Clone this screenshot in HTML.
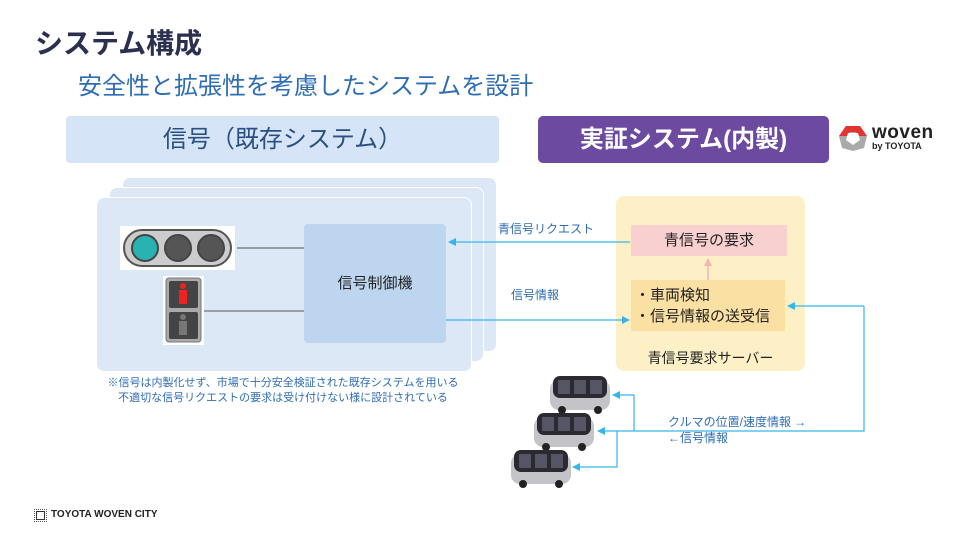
<!DOCTYPE html>
<html><head><meta charset="utf-8"><style>
body{margin:0}
#c{position:relative;width:960px;height:540px;background:#fff;overflow:hidden;font-family:"Liberation Sans","Noto Sans CJK JP",sans-serif}
.a{position:absolute}
.t{white-space:nowrap}
</style></head><body><div id="c">
<div class="a t" style="left:35px;top:22px;font-size:28px;font-weight:bold;color:#2b2f50">システム構成</div>
<div class="a t" style="left:78px;top:66px;font-size:24px;color:#2f6db3">安全性と拡張性を考慮したシステムを設計</div>

<div class="a" style="left:66px;top:116px;width:433px;height:47px;background:#d5e4f6;border-radius:4px;text-align:center;line-height:47px;font-size:24px;color:#2a4f80">信号（既存システム）</div>
<div class="a" style="left:538px;top:116px;width:291px;height:47px;background:#6b4aa0;border-radius:5px;text-align:center;line-height:47px;font-size:24px;font-weight:bold;color:#fff">実証システム(内製)</div>

<svg class="a" style="left:838px;top:124px" width="30" height="28" viewBox="0 0 30 28">
<polygon points="8,2 22,2 29,12 26,24 15,27 4,24 1,12" fill="#aaa"/>
<polygon points="8,2 22,2 29,12 21,12 18,8 12,8 9,12 1,12" fill="#e3342f"/>
<polygon points="10,9 20,9 22,16 15,21 8,16" fill="#fff"/>
</svg>
<div class="a t" style="left:872px;top:122px;font-size:19px;font-weight:bold;color:#222;letter-spacing:0.5px">woven</div>
<div class="a t" style="left:872px;top:141px;font-size:9px;font-weight:bold;color:#222">by TOYOTA</div>

<div class="a" style="left:122px;top:177px;width:373px;height:173px;background:#dce8f5;border:1px solid #fff;border-radius:8px"></div>
<div class="a" style="left:109px;top:187px;width:373px;height:173px;background:#dce8f5;border:1px solid #fff;border-radius:8px"></div>
<div class="a" style="left:96px;top:197px;width:374px;height:173px;background:#dce8f5;border:1px solid #fff;border-radius:8px"></div>

<div class="a" style="left:304px;top:224px;width:142px;height:119px;background:#bdd5ef;border-radius:4px;text-align:center;line-height:119px;font-size:15px;color:#222">信号制御機</div>
<div class="a t" style="left:498px;top:220px;font-size:12px;color:#2f6db3">青信号リクエスト</div>
<div class="a t" style="left:511px;top:286px;font-size:12px;color:#2f6db3">信号情報</div>

<div class="a" style="left:616px;top:196px;width:189px;height:175px;background:#fdf0c7;border-radius:8px"></div>
<div class="a" style="left:631px;top:225px;width:156px;height:31px;background:#f9d0d0;text-align:center;line-height:31px;font-size:15px;color:#222">青信号の要求</div>
<div class="a" style="left:631px;top:280px;width:154px;height:51px;background:#fbe0a3;font-size:15px;color:#222;line-height:21px;padding-top:5px;box-sizing:border-box;padding-left:4px">・車両検知<br>・信号情報の送受信</div>
<div class="a t" style="left:616px;top:348px;width:189px;text-align:center;font-size:14px;color:#222">青信号要求サーバー</div>

<svg class="a" style="left:0;top:0;z-index:5" width="960" height="540">
<defs>
<marker id="m" markerWidth="8" markerHeight="8" refX="7" refY="4" orient="auto" markerUnits="userSpaceOnUse"><path d="M0,0 L8,4 L0,8z" fill="#35b6e8"/></marker>
<marker id="p" markerWidth="8" markerHeight="8" refX="7" refY="4" orient="auto" markerUnits="userSpaceOnUse"><path d="M0,0 L8,4 L0,8z" fill="#f4b4b4"/></marker>
<g id="car"><rect x="0" y="4" width="60" height="30" rx="9" fill="#c4c4c8"/><rect x="3" y="0" width="54" height="22" rx="7" fill="#2a2a30"/><rect x="8" y="4" width="12" height="14" fill="#556"/><rect x="24" y="4" width="12" height="14" fill="#556"/><rect x="40" y="4" width="12" height="14" fill="#556"/><circle cx="12" cy="34" r="4" fill="#222"/><circle cx="48" cy="34" r="4" fill="#222"/></g>
</defs>
<rect x="120" y="226" width="115" height="44" fill="#fff"/>
<rect x="124" y="230" width="107" height="36" rx="18" fill="#ccc" stroke="#555" stroke-width="2"/>
<circle cx="145" cy="248" r="13" fill="#2ab2b3" stroke="#444" stroke-width="2"/>
<circle cx="178" cy="248" r="13" fill="#555" stroke="#444" stroke-width="2"/>
<circle cx="211" cy="248" r="13" fill="#555" stroke="#444" stroke-width="2"/>
<rect x="163" y="276" width="41" height="69" fill="#fff"/>
<rect x="166" y="278" width="35" height="64" rx="3" fill="#aaa" stroke="#777"/>
<rect x="169" y="281" width="29" height="27" rx="2" fill="#444"/>
<rect x="169" y="312" width="29" height="27" rx="2" fill="#444"/>
<circle cx="183" cy="286" r="3" fill="#e22"/><rect x="179" y="290" width="8" height="14" fill="#e22"/>
<circle cx="183" cy="317" r="3" fill="#777"/><rect x="179" y="321" width="8" height="14" fill="#777"/>
<line x1="237" y1="248" x2="304" y2="248" stroke="#555" stroke-width="1"/>
<line x1="204" y1="311" x2="304" y2="311" stroke="#555" stroke-width="1"/>
<line x1="630" y1="242" x2="449" y2="242" stroke="#35b6e8" stroke-width="1.2" marker-end="url(#m)"/>
<line x1="446" y1="320" x2="629" y2="320" stroke="#35b6e8" stroke-width="1.2" marker-end="url(#m)"/>
<polyline points="864,306 864,431 598,431" fill="none" stroke="#35b6e8" stroke-width="1.2" marker-end="url(#m)"/>
<line x1="864" y1="306" x2="788" y2="306" stroke="#35b6e8" stroke-width="1.2" marker-end="url(#m)"/>
<polyline points="634,431 634,395 613,395" fill="none" stroke="#35b6e8" stroke-width="1.2" marker-end="url(#m)"/>
<polyline points="617,431 617,467 573,467" fill="none" stroke="#35b6e8" stroke-width="1.2" marker-end="url(#m)"/>
<line x1="708" y1="280" x2="708" y2="259" stroke="#f4b4b4" stroke-width="1.5" marker-end="url(#p)"/>
<use href="#car" x="550" y="376"/>
<use href="#car" x="534" y="413"/>
<use href="#car" x="511" y="450"/>
</svg>

<div class="a t" style="left:96px;top:376px;width:374px;text-align:center;font-size:11px;color:#2f6db3;line-height:15px">※信号は内製化せず、市場で十分安全検証された既存システムを用いる<br>不適切な信号リクエストの要求は受け付けない様に設計されている</div>
<div class="a t" style="left:668px;top:414px;font-size:12px;color:#2f6db3;line-height:16px">クルマの位置/速度情報 →<br>←信号情報</div>

<div class="a" style="left:36px;top:511px;width:9px;height:9px;border:1.5px solid #333;box-sizing:border-box;outline:1px dotted #555;outline-offset:1px"></div>
<div class="a t" style="left:51px;top:509px;font-size:10px;font-weight:bold;color:#222">TOYOTA WOVEN CITY</div>
</div></body></html>
